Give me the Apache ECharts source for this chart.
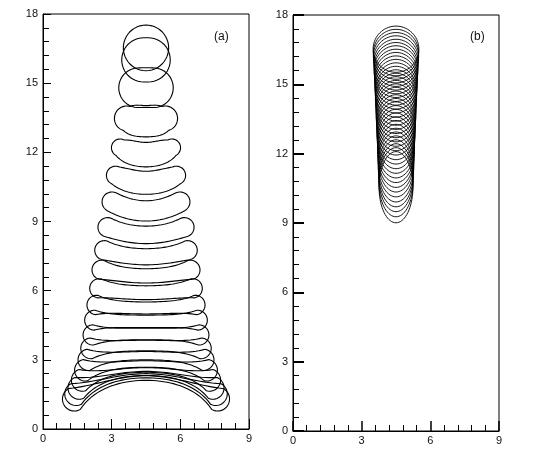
<!DOCTYPE html>
<html>
<head>
<meta charset="utf-8">
<script src="https://cdn.jsdelivr.net/npm/echarts@6/dist/echarts.min.js"></script>
<style>
  html, body { margin: 0; padding: 0; background: #fff; }
  #chart { width: 536px; height: 450px; }
</style>
</head>
<body>
<div id="chart"></div>
<script>
// axis ticks
const xTicks = [0, 3, 6, 9]
const yTicks = [0, 3, 6, 9, 12, 15, 18]

// panel (a): drop shapes, top to bottom
const dropX = 4.5
const midY = [16.53, 16.01, 14.81, 13.35, 11.9, 10.68, 9.46, 8.42, 7.47, 6.64, 5.91, 5.25, 4.67, 4.12, 3.62, 3.18, 2.82, 2.56, 2.41, 2.31, 2.21]
const midHalf = [0.99, 0.96, 0.86, 0.68, 0.53, 0.5, 0.44, 0.38, 0.35, 0.31, 0.3, 0.26, 0.27, 0.25, 0.23, 0.18, 0.14, 0.1, 0.09, 0.09, 0.1]
const tipY = [16.53, 16.01, 14.8, 13.47, 12.2, 11.0, 9.85, 8.75, 7.75, 6.9, 6.1, 5.38, 4.72, 4.08, 3.5, 3.0, 2.55, 2.12, 1.78, 1.52, 1.3]
const tipR = [0.99, 0.96, 0.86, 0.54, 0.38, 0.4, 0.43, 0.42, 0.42, 0.42, 0.42, 0.42, 0.43, 0.44, 0.45, 0.46, 0.47, 0.48, 0.49, 0.5, 0.52]
const tipSpan = [0, 0.1, 0.33, 0.84, 1.13, 1.33, 1.49, 1.68, 1.82, 1.94, 2.04, 2.16, 2.25, 2.31, 2.4, 2.51, 2.65, 2.78, 2.92, 3.05, 3.13]

// panel (b): falling drop, top / bottom / half width of each frame
const fallTop = [17.52, 17.38, 17.24, 17.1, 16.95, 16.81, 16.67, 16.52, 16.38, 16.23, 16.08, 15.93, 15.78, 15.63, 15.48, 15.33, 15.17, 15.02,
  14.87, 14.71, 14.55, 14.39, 14.24, 14.08, 13.92, 13.76, 13.59, 13.43, 13.27, 13.1, 12.94, 12.77, 12.6, 12.43, 12.26, 12.09]
const fallBottom = [15.52, 15.37, 15.22, 15.06, 14.91, 14.75, 14.59, 14.43, 14.26, 14.1, 13.93, 13.76, 13.58, 13.41, 13.23, 13.05, 12.87, 12.69,
  12.51, 12.32, 12.13, 11.94, 11.74, 11.55, 11.35, 11.15, 10.95, 10.75, 10.54, 10.34, 10.13, 9.91, 9.7, 9.49, 9.27, 9.01]
const fallHalfW = [1.0, 0.99, 0.99, 0.98, 0.97, 0.96, 0.96, 0.95, 0.94, 0.93, 0.93, 0.92, 0.91, 0.9, 0.9, 0.89, 0.88, 0.87,
  0.87, 0.86, 0.85, 0.84, 0.84, 0.83, 0.82, 0.81, 0.81, 0.8, 0.79, 0.78, 0.78, 0.77, 0.76, 0.75, 0.75, 0.74]

const FONT = 'Liberation Sans'

// outline of one drop: bent band with round ends
function dropOutline(cx, ym, hm, yt, rt, hs) {
  const n = 40
  const m = 24
  const pts = []
  const c = s => yt + (ym - yt) * (1 - s * s)
  const dc = s => -2 * s * (ym - yt)
  const h = s => hm + (rt - hm) * Math.pow(s, 4)
  const nrm = s => {
    const dx = hs
    const dy = dc(s)
    const L = Math.hypot(dx, dy)
    return L < 1e-9 ? [0, 1] : [-dy / L, dx / L]
  }
  for (let i = 0; i <= n; i++) {
    const s = -1 + 2 * i / n
    const N = nrm(s)
    pts.push([cx + s * hs + h(s) * N[0], c(s) + h(s) * N[1]])
  }
  const N1 = nrm(1)
  const a1 = Math.atan2(N1[1], N1[0])
  for (let k = 1; k < m; k++) {
    const a = a1 - Math.PI * k / m
    pts.push([cx + hs + rt * Math.cos(a), c(1) + rt * Math.sin(a)])
  }
  for (let i = n; i >= 0; i--) {
    const s = -1 + 2 * i / n
    const N = nrm(s)
    pts.push([cx + s * hs - h(s) * N[0], c(s) - h(s) * N[1]])
  }
  const N0 = nrm(-1)
  const a0 = Math.atan2(-N0[1], -N0[0])
  for (let k = 1; k < m; k++) {
    const a = a0 - Math.PI * k / m
    pts.push([cx - hs + rt * Math.cos(a), c(-1) + rt * Math.sin(a)])
  }
  return pts
}

const dropData = midY.map((y, i) => [dropX, y, midHalf[i], tipY[i], tipR[i], tipSpan[i]])
const fallData = fallTop.map((t, i) => [dropX, t, fallBottom[i], fallHalfW[i]])

function axisX(gridIndex, major) {
  return {
    type: 'value', gridIndex: gridIndex, min: 0, max: 9, interval: 3,
    axisLine: { show: true, lineStyle: { color: '#000', width: 1 } },
    axisTick: { show: true, inside: true, length: 10, lineStyle: { color: '#000', width: major } },
    minorTick: { show: true, splitNumber: 5, length: 6, lineStyle: { color: '#000', width: 1 } },
    splitLine: { show: false },
    axisLabel: { color: '#111', fontSize: 11, fontFamily: FONT, margin: 4 }
  }
}
function axisY(gridIndex, major) {
  return {
    type: 'value', gridIndex: gridIndex, min: 0, max: 18, interval: 3,
    axisLine: { show: true, lineStyle: { color: '#000', width: 1 } },
    axisTick: { show: true, inside: true, length: major > 1 ? 11 : 8, lineStyle: { color: '#000', width: major } },
    minorTick: { show: true, splitNumber: 5, length: 6, lineStyle: { color: '#000', width: 1 } },
    splitLine: { show: false },
    axisLabel: { color: '#111', fontSize: 11, fontFamily: FONT, margin: 5 }
  }
}

const chart = echarts.init(document.getElementById('chart'), null, { renderer: 'canvas' })
chart.setOption({
  animation: false,
  backgroundColor: '#fff',
  grid: [
    { left: 43, top: 14, width: 206, height: 415, show: true, borderColor: '#000', borderWidth: 1 },
    { left: 293, top: 15, width: 206, height: 416, show: true, borderColor: '#000', borderWidth: 1 }
  ],
  xAxis: [axisX(0, 1), axisX(1, 1.5)],
  yAxis: [axisY(0, 1), axisY(1, 2)],
  graphic: [
    { type: 'text', left: 214, top: 31, style: { text: '(a)', fontSize: 12, fontFamily: FONT, fill: '#111' } },
    { type: 'text', left: 470, top: 31, style: { text: '(b)', fontSize: 12, fontFamily: FONT, fill: '#111' } }
  ],
  series: [
    {
      type: 'custom', xAxisIndex: 0, yAxisIndex: 0, silent: true,
      encode: { x: 0, y: 1 },
      data: dropData,
      renderItem: function(params, api) {
        const pts = dropOutline(api.value(0), api.value(1), api.value(2), api.value(3), api.value(4), api.value(5))
        return {
          type: 'polygon',
          shape: { points: pts.map(p => api.coord(p)) },
          style: { fill: 'none', stroke: '#000', lineWidth: 1.1 }
        }
      }
    },
    {
      type: 'custom', xAxisIndex: 1, yAxisIndex: 1, silent: true,
      encode: { x: 0, y: 1 },
      data: fallData,
      renderItem: function(params, api) {
        const cx = api.value(0)
        const top = api.value(1)
        const bot = api.value(2)
        const rx = api.value(3)
        const cy = (top + bot) / 2
        const ry = (top - bot) / 2
        const pts = []
        for (let k = 0; k < 72; k++) {
          const a = Math.PI * 2 * k / 72
          pts.push(api.coord([cx + rx * Math.cos(a), cy + ry * Math.sin(a)]))
        }
        return {
          type: 'polygon',
          shape: { points: pts },
          style: { fill: 'none', stroke: '#000', lineWidth: 0.9 }
        }
      }
    }
  ]
})
</script>
</body>
</html>
